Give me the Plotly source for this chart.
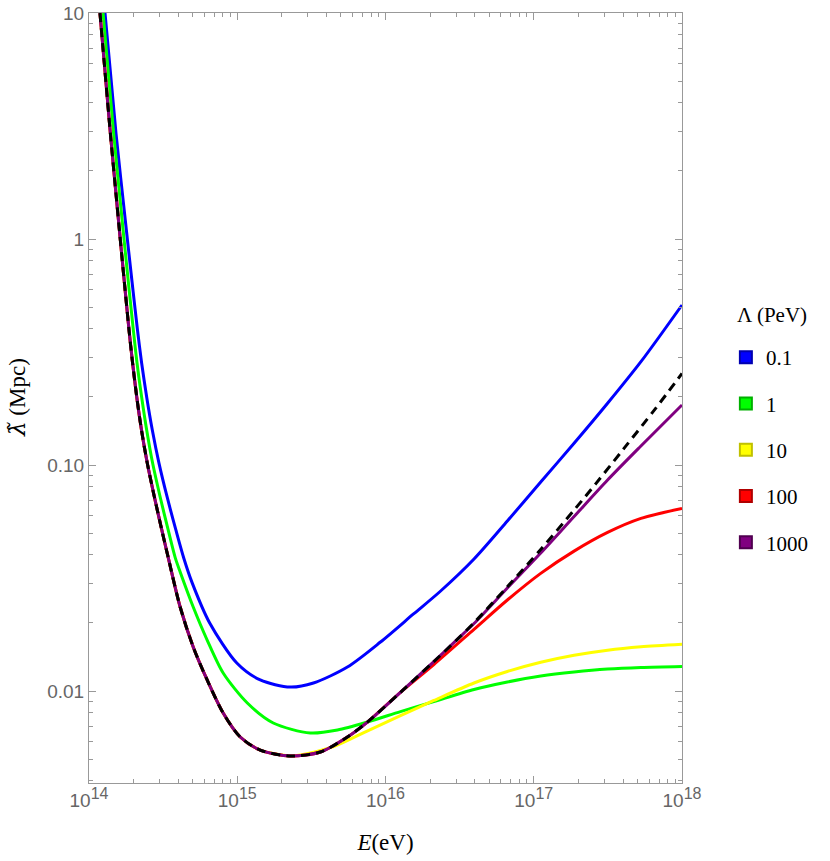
import plotly.graph_objects as go

# values; energies kept as log10(E / eV)

# no cutoff (black dashed)
logE_std = [14.074, 14.144, 14.205, 14.237, 14.270, 14.294, 14.322, 14.354, 14.393, 14.441,
            14.491, 14.535, 14.615, 14.703, 14.797, 14.905, 15.020, 15.155, 15.358, 15.561,
            15.743, 15.878, 16.101, 16.324, 16.486, 16.597, 16.822, 17.047, 17.272, 17.419,
            17.610, 17.813, 18.0]
lam_std = [10, 2.944, 1.096, 0.6587, 0.3958, 0.2828, 0.2000, 0.1429, 0.1020, 0.0722,
           0.0516, 0.0388, 0.02353, 0.01566, 0.01119, 0.00799, 0.00626, 0.00548, 0.00516, 0.00537,
           0.00626, 0.00729, 0.00987, 0.01345, 0.01697, 0.02004, 0.02893, 0.04231, 0.06316, 0.08274,
           0.1187, 0.1749, 0.2541]

# Lambda = 0.1 PeV
logE_01 = [14.108, 14.182, 14.252, 14.289, 14.327, 14.355, 14.389, 14.427, 14.472, 14.527,
           14.586, 14.639, 14.696, 14.814, 14.997, 15.155, 15.358, 15.514, 15.743, 15.966,
           16.189, 16.372, 16.597, 16.822, 17.047, 17.272, 17.498, 17.723, 18.0]
lam_01 = [10, 2.944, 1.096, 0.6587, 0.3958, 0.2828, 0.2000, 0.1429, 0.1020, 0.0722,
          0.0516, 0.0388, 0.0301, 0.0200, 0.0133, 0.01119, 0.01041, 0.01085, 0.01277, 0.01647,
          0.02192, 0.02770, 0.03838, 0.05652, 0.08410, 0.1247, 0.1875, 0.2865, 0.5105]

# Lambda = 1 PeV
logE_1 = [14.095, 14.166, 14.230, 14.264, 14.299, 14.324, 14.355, 14.389, 14.429, 14.480,
          14.534, 14.582, 14.615, 14.703, 14.797, 14.905, 15.068, 15.243, 15.493, 15.676,
          15.878, 16.101, 16.326, 16.597, 16.822, 17.047, 17.272, 17.498, 17.723, 18.0]
lam_1 = [10, 2.944, 1.096, 0.6587, 0.3958, 0.2828, 0.2000, 0.1429, 0.1020, 0.0722,
         0.0516, 0.0388, 0.03362, 0.02353, 0.01681, 0.01201, 0.00885, 0.00722, 0.00652, 0.00672,
         0.00729, 0.00811, 0.00898, 0.01015, 0.01096, 0.01165, 0.01214, 0.01251, 0.01271, 0.01284]

# Lambda = 10 PeV
logE_10 = [14.074, 14.144, 14.205, 14.237, 14.270, 14.294, 14.322, 14.354, 14.393, 14.441,
           14.491, 14.535, 14.615, 14.703, 14.797, 14.905, 15.020, 15.155, 15.358, 15.426,
           15.651, 15.876, 16.101, 16.326, 16.597, 16.822, 17.047, 17.272, 17.498, 17.723, 18.0]
lam_10 = [10, 2.944, 1.096, 0.6587, 0.3958, 0.2828, 0.2000, 0.1429, 0.1020, 0.0722,
          0.0516, 0.0388, 0.02353, 0.01566, 0.01119, 0.00799, 0.00626, 0.00548, 0.00516, 0.00521,
          0.00568, 0.00665, 0.00779, 0.00908, 0.01085, 0.01220, 0.01340, 0.01439, 0.01516, 0.01569,
          0.01611]

# Lambda = 100 PeV
logE_100 = [14.074, 14.144, 14.205, 14.237, 14.270, 14.294, 14.322, 14.354, 14.393, 14.441,
            14.491, 14.535, 14.615, 14.703, 14.797, 14.905, 15.020, 15.155, 15.358, 15.561,
            15.743, 15.878, 16.101, 16.326, 16.597, 16.822, 17.047, 17.272, 17.498, 17.723, 18.0]
lam_100 = [10, 2.944, 1.096, 0.6587, 0.3958, 0.2828, 0.2000, 0.1429, 0.1020, 0.0722,
           0.0516, 0.0388, 0.02353, 0.01566, 0.01119, 0.00799, 0.00626, 0.00548, 0.00516, 0.00537,
           0.00626, 0.00729, 0.00987, 0.01310, 0.01875, 0.02527, 0.03315, 0.04159, 0.05031, 0.05803,
           0.06427]

# Lambda = 1000 PeV
logE_1000 = [14.074, 14.144, 14.205, 14.237, 14.270, 14.294, 14.322, 14.354, 14.393, 14.441,
             14.491, 14.535, 14.615, 14.703, 14.797, 14.905, 15.020, 15.155, 15.358, 15.561,
             15.743, 15.878, 16.101, 16.324, 16.486, 16.597, 16.822, 17.047, 17.272, 17.498,
             17.723, 18.0]
lam_1000 = [10, 2.944, 1.096, 0.6587, 0.3958, 0.2828, 0.2000, 0.1429, 0.1020, 0.0722,
            0.0516, 0.0388, 0.02353, 0.01566, 0.01119, 0.00799, 0.00626, 0.00548, 0.00516, 0.00537,
            0.00626, 0.00729, 0.00987, 0.01345, 0.01697, 0.01989, 0.02856, 0.04079, 0.05916, 0.08584,
            0.1214, 0.1843]

labels = ["0.1", "1", "10", "100", "1000"]
colors = ["#0000ff", "#00ff00", "#ffff00", "#ff0000", "#800080"]
edges = ["#0000b0", "#00b000", "#c0c000", "#b00000", "#500050"]

x_ticks = [1e14, 1e15, 1e16, 1e17, 1e18]
x_exps = ["14", "15", "16", "17", "18"]
x_ticktext = ["10<sup><span style='font-size:16px'>%s</span></sup>" % e for e in x_exps]
y_ticks = [0.01, 0.1, 1, 10]
y_ticktext = ["0.01", "0.10", "1", "10"]

series = [(logE_01, lam_01), (logE_1, lam_1), (logE_10, lam_10),
          (logE_100, lam_100), (logE_1000, lam_1000)]

fig = go.Figure()

for (lx, ly), c in zip(series, colors):
    fig.add_trace(go.Scatter(
        x=[10 ** v for v in lx], y=ly, mode="lines",
        line=dict(color=c, width=3, shape="spline", smoothing=0.8),
        showlegend=False, hoverinfo="skip"
    ))

# no-cutoff reference curve
fig.add_trace(go.Scatter(
    x=[10 ** v for v in logE_std], y=lam_std, mode="lines",
    line=dict(color="black", width=3, dash="9px,6px", shape="spline", smoothing=0.8),
    showlegend=False, hoverinfo="skip"
))

# square swatches for the legend
for lab, c, e in zip(labels, colors, edges):
    fig.add_trace(go.Scatter(
        x=[None], y=[None], mode="markers", name=lab, legendgroup=lab,
        marker=dict(symbol="square", size=19, color=c, line=dict(color=e, width=1))
    ))

tick_font = dict(family="Liberation Sans, Arial, sans-serif", size=19, color="#666666")
title_font = dict(family="Liberation Serif, serif", size=23, color="black")

axis_common = dict(
    type="log", showline=True, linecolor="#999999", linewidth=1, mirror="ticks",
    ticks="inside", ticklen=7, tickcolor="#999999", showgrid=False, zeroline=False,
    automargin=False, ticklabeloverflow="allow",
    minor=dict(ticks="inside", ticklen=4, tickcolor="#999999", dtick="D1", showgrid=False),
)

fig.update_layout(
    width=830, height=861,
    margin=dict(l=89, r=148, t=13, b=78),
    plot_bgcolor="white", paper_bgcolor="white",
    xaxis=dict(axis_common, range=[14, 18], tickvals=x_ticks, ticktext=x_ticktext,
               title=dict(text="<i>E</i>(eV)", standoff=24, font=title_font)),
    yaxis=dict(axis_common, range=[-2.407, 1], tickvals=y_ticks, ticktext=y_ticktext),
    legend=dict(
        x=1.074, y=0.5792, xanchor="left", yanchor="top",
        font=dict(family="Liberation Serif, serif", size=21, color="black"),
        tracegroupgap=16, itemsizing="constant", bgcolor="rgba(0,0,0,0)",
    ),
    annotations=[
        dict(text="Λ (PeV)", xref="paper", yref="paper", x=1.0894, y=0.6078,
             xanchor="left", yanchor="middle", showarrow=False,
             font=dict(family="Liberation Serif, serif", size=21, color="black")),
        dict(text="<span style='font-family:DejaVu Serif;font-style:italic'>λ̃</span> (Mpc)",
             xref="paper", yref="paper", x=-0.1214, y=0.5, textangle=-90,
             xanchor="center", yanchor="middle", showarrow=False, font=title_font),
    ],
)
fig.update_xaxes(tickfont=tick_font)
fig.update_yaxes(tickfont=tick_font)

# drop the page's default body margin so the figure sits at the window's corner
fig.write_html("out.html", config={"displayModeBar": False},
               post_script="document.body.style.margin = '0px';")
